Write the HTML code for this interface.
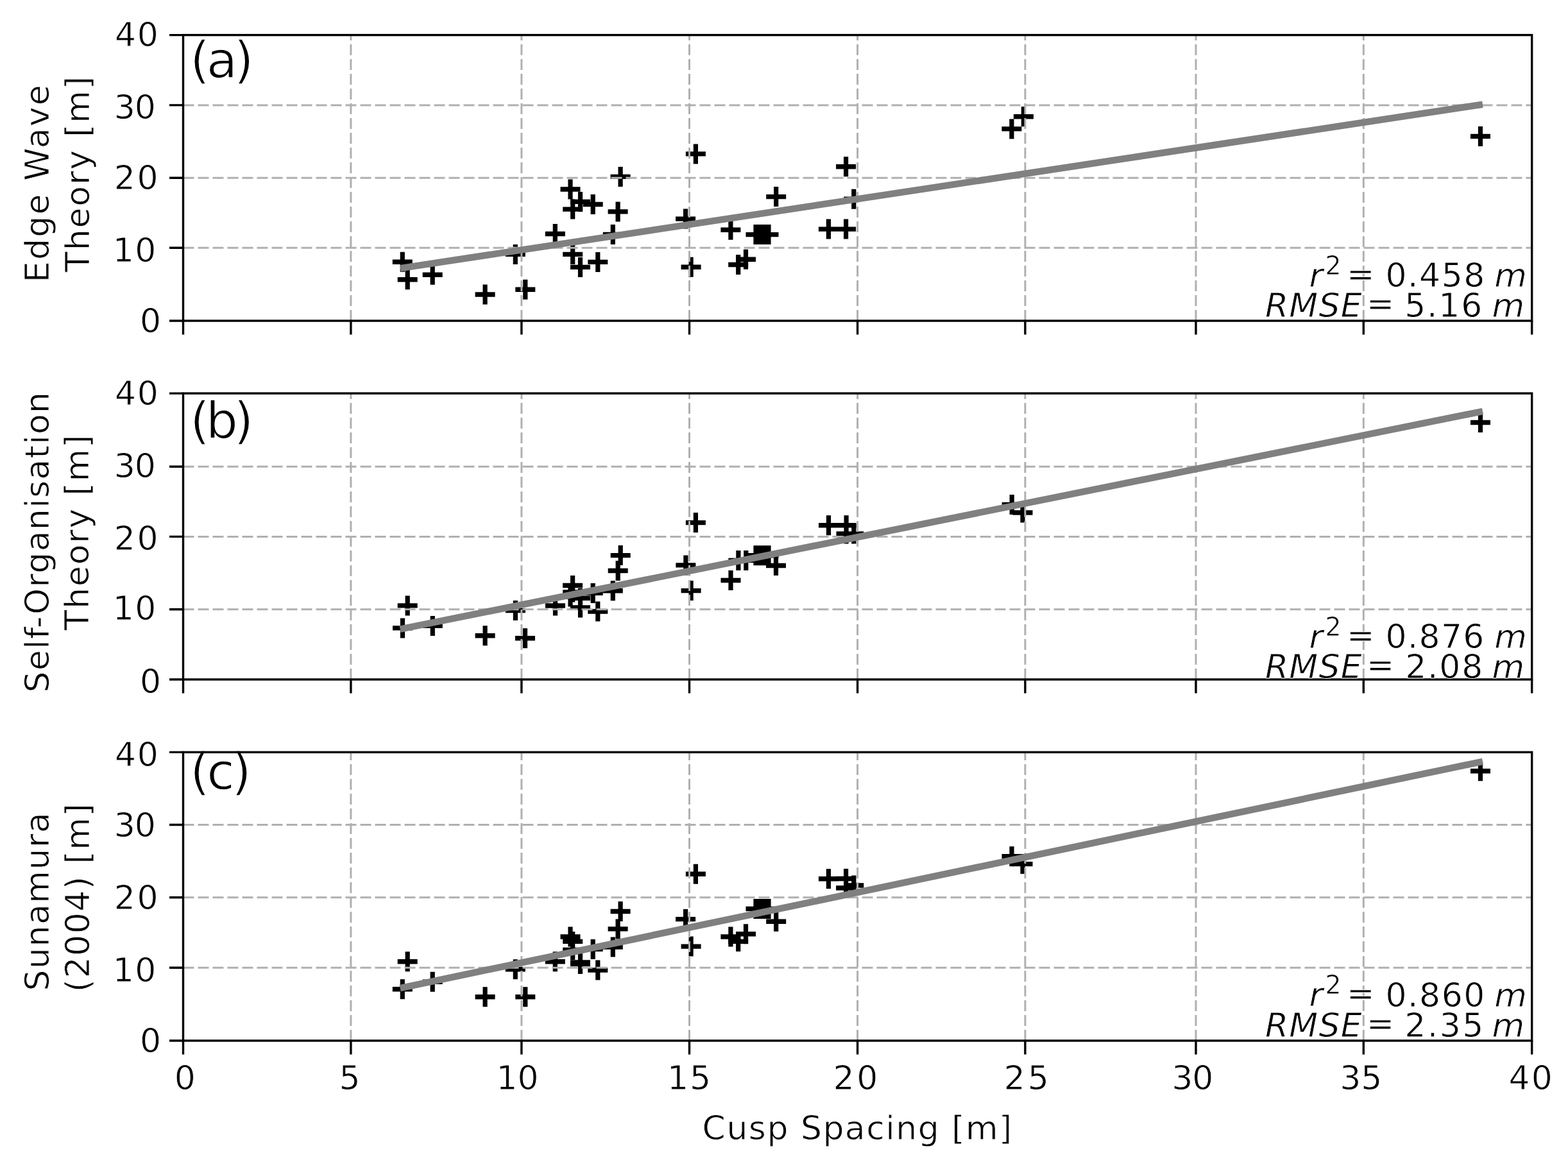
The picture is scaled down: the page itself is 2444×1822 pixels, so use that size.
<!DOCTYPE html><html><head><meta charset="utf-8"><title>Cusp spacing comparison</title><style>html,body{margin:0;padding:0;background:#fff;}svg{display:block;}</style></head><body><svg width="2444" height="1822" viewBox="0 0 2444 1822"><rect width="2444" height="1822" fill="#fff"/><path d="M611.8 408.3H642.8 M619.7 435.8H650.7 M658.7 428.3H689.7 M740.6 459H771.6 M787.8 396.4H818.8 M803.3 451.3H834.3 M849.8 364.5H880.8 M873.5 295H904.5 M877.2 326.1H908.2 M877.2 396.4H908.2 M889 314.4H920 M889 416.4H920 M908.7 318.5H939.7 M916.3 408.4H947.3 M939.8 365.5H970.8 M947.6 329.9H978.6 M951.6 275.4H982.6 M1053.1 341.1H1084.1 M1061.6 416.3H1092.6 M1068.9 239.9H1099.9 M1123.4 358.3H1154.4 M1135.2 412.5H1166.2 M1147 404.3H1178 M1162.5 365.6H1193.5 M1169.5 365.6H1200.5 M1175.5 365.6H1206.5 M1182.5 365.6H1213.5 M1194.2 306.6H1225.2 M1275.9 357.1H1306.9 M1303.1 259.7H1334.1 M1303.1 357.1H1334.1 M1315.3 310.2H1346.3 M1561.4 200.9H1592.4 M1579.9 181.7H1610.9 M2292 212.5H2323" stroke="#000" stroke-width="7.4" fill="none"/>
<path d="M627.3 392.8V423.8 M635.2 420.3V451.3 M674.2 412.8V443.8 M756.1 443.5V474.5 M803.3 380.9V411.9 M818.8 435.8V466.8 M865.3 349V380 M889 279.5V310.5 M892.7 310.6V341.6 M892.7 380.9V411.9 M904.5 298.9V329.9 M904.5 400.9V431.9 M924.2 303V334 M931.8 392.9V423.9 M955.3 350V381 M963.1 314.4V345.4 M967.1 259.9V290.9 M1068.6 325.6V356.6 M1077.1 400.8V431.8 M1084.4 224.4V255.4 M1138.9 342.8V373.8 M1150.7 397V428 M1162.5 388.8V419.8 M1178 350.1V381.1 M1185 350.1V381.1 M1191 350.1V381.1 M1198 350.1V381.1 M1209.7 291.1V322.1 M1291.4 341.6V372.6 M1318.6 244.2V275.2 M1318.6 341.6V372.6 M1330.8 294.7V325.7 M1576.9 185.4V216.4 M1595.4 166.2V197.2 M2307.5 197V228" stroke="#000" stroke-width="7.2" fill="none"/>
<g stroke="#b0b0b0" stroke-width="3.0" stroke-dasharray="17 6"><line x1="546.9" y1="500" x2="546.9" y2="54.6"/><line x1="812.9" y1="500" x2="812.9" y2="54.6"/><line x1="1074.5" y1="500" x2="1074.5" y2="54.6"/><line x1="1336.6" y1="500" x2="1336.6" y2="54.6"/><line x1="1597.9" y1="500" x2="1597.9" y2="54.6"/><line x1="1864" y1="500" x2="1864" y2="54.6"/><line x1="2125.3" y1="500" x2="2125.3" y2="54.6"/><line x1="285.5" y1="386.3" x2="2387.7" y2="386.3"/><line x1="285.5" y1="277.2" x2="2387.7" y2="277.2"/><line x1="285.5" y1="163.9" x2="2387.7" y2="163.9"/></g>
<line x1="624" y1="418.1" x2="2311" y2="162.7" stroke="#808080" stroke-width="10.5"/>
<g font-family="DejaVu Sans, sans-serif" fill="#000" stroke="#fff" stroke-width="1.4"><text x="296.1" y="120.7" font-size="79" textLength="99.56" lengthAdjust="spacing">(a)</text></g>
<rect x="285.5" y="54.6" width="2102.2" height="445.4" fill="none" stroke="#000" stroke-width="3.4"/>
<path d="M285.5 500V521.5 M546.9 500V521.5 M812.9 500V521.5 M1074.5 500V521.5 M1336.6 500V521.5 M1597.9 500V521.5 M1864 500V521.5 M2125.3 500V521.5 M2387.7 500V521.5 M264 500H285.5 M264 386.3H285.5 M264 277.2H285.5 M264 163.9H285.5 M264 54.6H285.5" stroke="#000" stroke-width="3.4" fill="none"/>
<path d="M612 978.9H643 M619.7 943.9H650.7 M658.8 975.4H689.8 M740.6 990.7H771.6 M787.9 951.6H818.9 M803 994.7H834 M850 944H881 M873.5 930H904.5 M877.1 912.5H908.1 M877.2 923H908.2 M889 932.2H920 M889 947H920 M908.7 924.4H939.7 M916.3 953H947.3 M939.8 920.8H970.8 M947.7 889.5H978.7 M951.7 865.6H982.7 M1053.4 880.9H1084.4 M1061.6 920.6H1092.6 M1068.9 814.6H1099.9 M1123.5 904.5H1154.5 M1135.4 873.4H1166.4 M1147.3 873.4H1178.3 M1162.5 865.8H1193.5 M1169.5 865.8H1200.5 M1175.5 865.8H1206.5 M1182.5 865.8H1213.5 M1194 881.5H1225 M1276 818.7H1307 M1303.6 818.7H1334.6 M1303.5 832H1334.5 M1315.3 832H1346.3 M1561.7 786.5H1592.7 M1578.5 799H1609.5 M2292 658.5H2323" stroke="#000" stroke-width="7.4" fill="none"/>
<path d="M627.5 963.4V994.4 M635.2 928.4V959.4 M674.3 959.9V990.9 M756.1 975.2V1006.2 M803.4 936.1V967.1 M818.5 979.2V1010.2 M865.5 928.5V959.5 M889 914.5V945.5 M892.6 897V928 M892.7 907.5V938.5 M904.5 916.7V947.7 M904.5 931.5V962.5 M924.2 908.9V939.9 M931.8 937.5V968.5 M955.3 905.3V936.3 M963.2 874V905 M967.2 850.1V881.1 M1068.9 865.4V896.4 M1077.1 905.1V936.1 M1084.4 799.1V830.1 M1139 889V920 M1150.9 857.9V888.9 M1162.8 857.9V888.9 M1178 850.3V881.3 M1185 850.3V881.3 M1191 850.3V881.3 M1198 850.3V881.3 M1209.5 866V897 M1291.5 803.2V834.2 M1319.1 803.2V834.2 M1319 816.5V847.5 M1330.8 816.5V847.5 M1577.2 771V802 M1594 783.5V814.5 M2307.5 643V674" stroke="#000" stroke-width="7.2" fill="none"/>
<g stroke="#b0b0b0" stroke-width="3.0" stroke-dasharray="17 6"><line x1="546.9" y1="1059" x2="546.9" y2="613.1"/><line x1="812.9" y1="1059" x2="812.9" y2="613.1"/><line x1="1074.5" y1="1059" x2="1074.5" y2="613.1"/><line x1="1336.6" y1="1059" x2="1336.6" y2="613.1"/><line x1="1597.9" y1="1059" x2="1597.9" y2="613.1"/><line x1="1864" y1="1059" x2="1864" y2="613.1"/><line x1="2125.3" y1="1059" x2="2125.3" y2="613.1"/><line x1="285.5" y1="949.8" x2="2387.7" y2="949.8"/><line x1="285.5" y1="836.4" x2="2387.7" y2="836.4"/><line x1="285.5" y1="727.2" x2="2387.7" y2="727.2"/></g>
<line x1="623.7" y1="980.7" x2="2311" y2="641.1" stroke="#808080" stroke-width="10.5"/>
<g font-family="DejaVu Sans, sans-serif" fill="#000" stroke="#fff" stroke-width="1.4"><text x="296.1" y="682.9" font-size="79" textLength="99.3" lengthAdjust="spacing">(b)</text></g>
<rect x="285.5" y="613.1" width="2102.2" height="445.9" fill="none" stroke="#000" stroke-width="3.4"/>
<path d="M285.5 1059V1080.5 M546.9 1059V1080.5 M812.9 1059V1080.5 M1074.5 1059V1080.5 M1336.6 1059V1080.5 M1597.9 1059V1080.5 M1864 1059V1080.5 M2125.3 1059V1080.5 M2387.7 1059V1080.5 M264 1059H285.5 M264 949.8H285.5 M264 836.4H285.5 M264 727.2H285.5 M264 613.1H285.5" stroke="#000" stroke-width="3.4" fill="none"/>
<path d="M611.8 1541.8H642.8 M619.7 1498.7H650.7 M658.7 1530.3H689.7 M740.6 1553.7H771.6 M787.8 1510.7H818.8 M803.3 1553.7H834.3 M849.8 1498.7H880.8 M873.5 1460H904.5 M877.2 1467.4H908.2 M877.2 1480.5H908.2 M889 1500H920 M889 1502.5H920 M908.7 1479.4H939.7 M916.3 1512H947.3 M939.8 1476H970.8 M947.6 1447.9H978.6 M951.6 1420.5H982.6 M1053.1 1432.6H1084.1 M1061.6 1475.1H1092.6 M1068.9 1362.2H1099.9 M1123.4 1460H1154.4 M1135.2 1467.4H1166.2 M1147 1455.8H1178 M1162.5 1416.5H1193.5 M1169.5 1416.5H1200.5 M1175.5 1416.5H1206.5 M1182.5 1416.5H1213.5 M1194.2 1436.2H1225.2 M1275.9 1369.7H1306.9 M1303.1 1369.5H1334.1 M1303.1 1384H1334.1 M1315.3 1380H1346.3 M1561.5 1334.7H1592.5 M1578.5 1346.6H1609.5 M2292 1201.7H2323" stroke="#000" stroke-width="7.4" fill="none"/>
<path d="M627.3 1526.3V1557.3 M635.2 1483.2V1514.2 M674.2 1514.8V1545.8 M756.1 1538.2V1569.2 M803.3 1495.2V1526.2 M818.8 1538.2V1569.2 M865.3 1483.2V1514.2 M889 1444.5V1475.5 M892.7 1451.9V1482.9 M892.7 1465V1496 M904.5 1484.5V1515.5 M904.5 1487V1518 M924.2 1463.9V1494.9 M931.8 1496.5V1527.5 M955.3 1460.5V1491.5 M963.1 1432.4V1463.4 M967.1 1405V1436 M1068.6 1417.1V1448.1 M1077.1 1459.6V1490.6 M1084.4 1346.7V1377.7 M1138.9 1444.5V1475.5 M1150.7 1451.9V1482.9 M1162.5 1440.3V1471.3 M1178 1401V1432 M1185 1401V1432 M1191 1401V1432 M1198 1401V1432 M1209.7 1420.7V1451.7 M1291.4 1354.2V1385.2 M1318.6 1354V1385 M1318.6 1368.5V1399.5 M1330.8 1364.5V1395.5 M1577 1319.2V1350.2 M1594 1331.1V1362.1 M2307.5 1186.2V1217.2" stroke="#000" stroke-width="7.2" fill="none"/>
<g stroke="#b0b0b0" stroke-width="3.0" stroke-dasharray="17 6"><line x1="546.9" y1="1622" x2="546.9" y2="1172.4"/><line x1="812.9" y1="1622" x2="812.9" y2="1172.4"/><line x1="1074.5" y1="1622" x2="1074.5" y2="1172.4"/><line x1="1336.6" y1="1622" x2="1336.6" y2="1172.4"/><line x1="1597.9" y1="1622" x2="1597.9" y2="1172.4"/><line x1="1864" y1="1622" x2="1864" y2="1172.4"/><line x1="2125.3" y1="1622" x2="2125.3" y2="1172.4"/><line x1="285.5" y1="1508.3" x2="2387.7" y2="1508.3"/><line x1="285.5" y1="1398.8" x2="2387.7" y2="1398.8"/><line x1="285.5" y1="1285.5" x2="2387.7" y2="1285.5"/></g>
<line x1="623.7" y1="1540.1" x2="2311" y2="1186.8" stroke="#808080" stroke-width="10.5"/>
<g font-family="DejaVu Sans, sans-serif" fill="#000" stroke="#fff" stroke-width="1.4"><text x="296.1" y="1230.4" font-size="79" textLength="95.78" lengthAdjust="spacing">(c)</text></g>
<rect x="285.5" y="1172.4" width="2102.2" height="449.6" fill="none" stroke="#000" stroke-width="3.4"/>
<path d="M285.5 1622V1643.5 M546.9 1622V1643.5 M812.9 1622V1643.5 M1074.5 1622V1643.5 M1336.6 1622V1643.5 M1597.9 1622V1643.5 M1864 1622V1643.5 M2125.3 1622V1643.5 M2387.7 1622V1643.5 M264 1622H285.5 M264 1508.3H285.5 M264 1398.8H285.5 M264 1285.5H285.5 M264 1172.4H285.5" stroke="#000" stroke-width="3.4" fill="none"/><g font-family="DejaVu Sans, sans-serif" fill="#000" stroke="#fff" stroke-width="0.8"><text x="218" y="517.5" font-size="52">0</text>
<text x="175.7" y="408.1" font-size="52" textLength="67.57" lengthAdjust="spacing">10</text>
<text x="177.7" y="294.6" font-size="52" textLength="68.97" lengthAdjust="spacing">20</text>
<text x="177.7" y="185.4" font-size="52" textLength="65.17" lengthAdjust="spacing">30</text>
<text x="179" y="71.7" font-size="52" textLength="67.87" lengthAdjust="spacing">40</text>
<text x="2040.4" y="446.6" font-size="52" font-style="italic">r</text>
<text x="2065.2" y="427.7" font-size="40">2</text>
<text x="2099" y="444.7" font-size="52">=</text>
<text x="2159.5" y="447.1" font-size="52" textLength="154.88" lengthAdjust="spacing">0.458</text>
<text x="2329.3" y="447.1" font-size="52" font-style="italic">m</text>
<text x="1971.9" y="493.8" font-size="52" font-style="italic" textLength="150.76" lengthAdjust="spacing">RMSE</text>
<text x="2129.7" y="491.4" font-size="52">=</text>
<text x="2189.3" y="493.8" font-size="52" textLength="120.98" lengthAdjust="spacing">5.16</text>
<text x="2325.4" y="493.8" font-size="52" font-style="italic">m</text>
<text transform="translate(75.9 440.2) rotate(-90)" font-size="52" textLength="308.02" lengthAdjust="spacing">Edge Wave</text>
<text transform="translate(138.5 423.9) rotate(-90)" font-size="52" textLength="305.04" lengthAdjust="spacing">Theory [m]</text>
<text x="218" y="1080" font-size="52">0</text>
<text x="175.7" y="966.3" font-size="52" textLength="67.57" lengthAdjust="spacing">10</text>
<text x="177.7" y="856.7" font-size="52" textLength="68.97" lengthAdjust="spacing">20</text>
<text x="177.7" y="744.1" font-size="52" textLength="65.17" lengthAdjust="spacing">30</text>
<text x="179" y="630.9" font-size="52" textLength="67.87" lengthAdjust="spacing">40</text>
<text x="2040.4" y="1009.6" font-size="52" font-style="italic">r</text>
<text x="2065.2" y="990.7" font-size="40">2</text>
<text x="2099" y="1007.7" font-size="52">=</text>
<text x="2159.5" y="1010.1" font-size="52" textLength="153.88" lengthAdjust="spacing">0.876</text>
<text x="2329.3" y="1010.1" font-size="52" font-style="italic">m</text>
<text x="1971.9" y="1056.7" font-size="52" font-style="italic" textLength="150.76" lengthAdjust="spacing">RMSE</text>
<text x="2129.7" y="1054.3" font-size="52">=</text>
<text x="2190.3" y="1056.7" font-size="52" textLength="120.98" lengthAdjust="spacing">2.08</text>
<text x="2325.4" y="1056.7" font-size="52" font-style="italic">m</text>
<text transform="translate(76 1079.4) rotate(-90)" font-size="52" textLength="468.46" lengthAdjust="spacing">Self-Organisation</text>
<text transform="translate(138.3 982.4) rotate(-90)" font-size="52" textLength="304.64" lengthAdjust="spacing">Theory [m]</text>
<text x="218" y="1640" font-size="52">0</text>
<text x="175.7" y="1530.2" font-size="52" textLength="67.57" lengthAdjust="spacing">10</text>
<text x="177.7" y="1416.9" font-size="52" textLength="68.97" lengthAdjust="spacing">20</text>
<text x="177.7" y="1303.7" font-size="52" textLength="65.17" lengthAdjust="spacing">30</text>
<text x="179" y="1193.6" font-size="52" textLength="67.87" lengthAdjust="spacing">40</text>
<text x="2040.4" y="1568" font-size="52" font-style="italic">r</text>
<text x="2065.2" y="1549.1" font-size="40">2</text>
<text x="2099" y="1566.1" font-size="52">=</text>
<text x="2159.5" y="1568.5" font-size="52" textLength="154.88" lengthAdjust="spacing">0.860</text>
<text x="2329.3" y="1568.5" font-size="52" font-style="italic">m</text>
<text x="1971.9" y="1615.7" font-size="52" font-style="italic" textLength="150.76" lengthAdjust="spacing">RMSE</text>
<text x="2129.7" y="1613.3" font-size="52">=</text>
<text x="2189.3" y="1615.7" font-size="52" textLength="122.98" lengthAdjust="spacing">2.35</text>
<text x="2325.4" y="1615.7" font-size="52" font-style="italic">m</text>
<text transform="translate(75.9 1544.5) rotate(-90)" font-size="52" textLength="278.16" lengthAdjust="spacing">Sunamura</text>
<text transform="translate(138.5 1546.2) rotate(-90)" font-size="52" textLength="293.87" lengthAdjust="spacing">(2004) [m]</text>
<text x="271.7" y="1697.8" font-size="52">0</text>
<text x="528.6" y="1697.8" font-size="52">5</text>
<text x="773.55" y="1697.8" font-size="52" textLength="66.07" lengthAdjust="spacing">10</text>
<text x="1040" y="1697.8" font-size="52" textLength="67.97" lengthAdjust="spacing">15</text>
<text x="1298.5" y="1697.8" font-size="52" textLength="69.77" lengthAdjust="spacing">20</text>
<text x="1564.65" y="1697.8" font-size="52" textLength="70.27" lengthAdjust="spacing">25</text>
<text x="1826.3" y="1697.8" font-size="52" textLength="64.97" lengthAdjust="spacing">30</text>
<text x="2088.35" y="1697.8" font-size="52" textLength="65.87" lengthAdjust="spacing">35</text>
<text x="2351.45" y="1697.8" font-size="52" textLength="68.27" lengthAdjust="spacing">40</text>
<text x="1094.6" y="1776.3" font-size="52" textLength="482.75" lengthAdjust="spacing">Cusp Spacing [m]</text></g></svg></body></html>
